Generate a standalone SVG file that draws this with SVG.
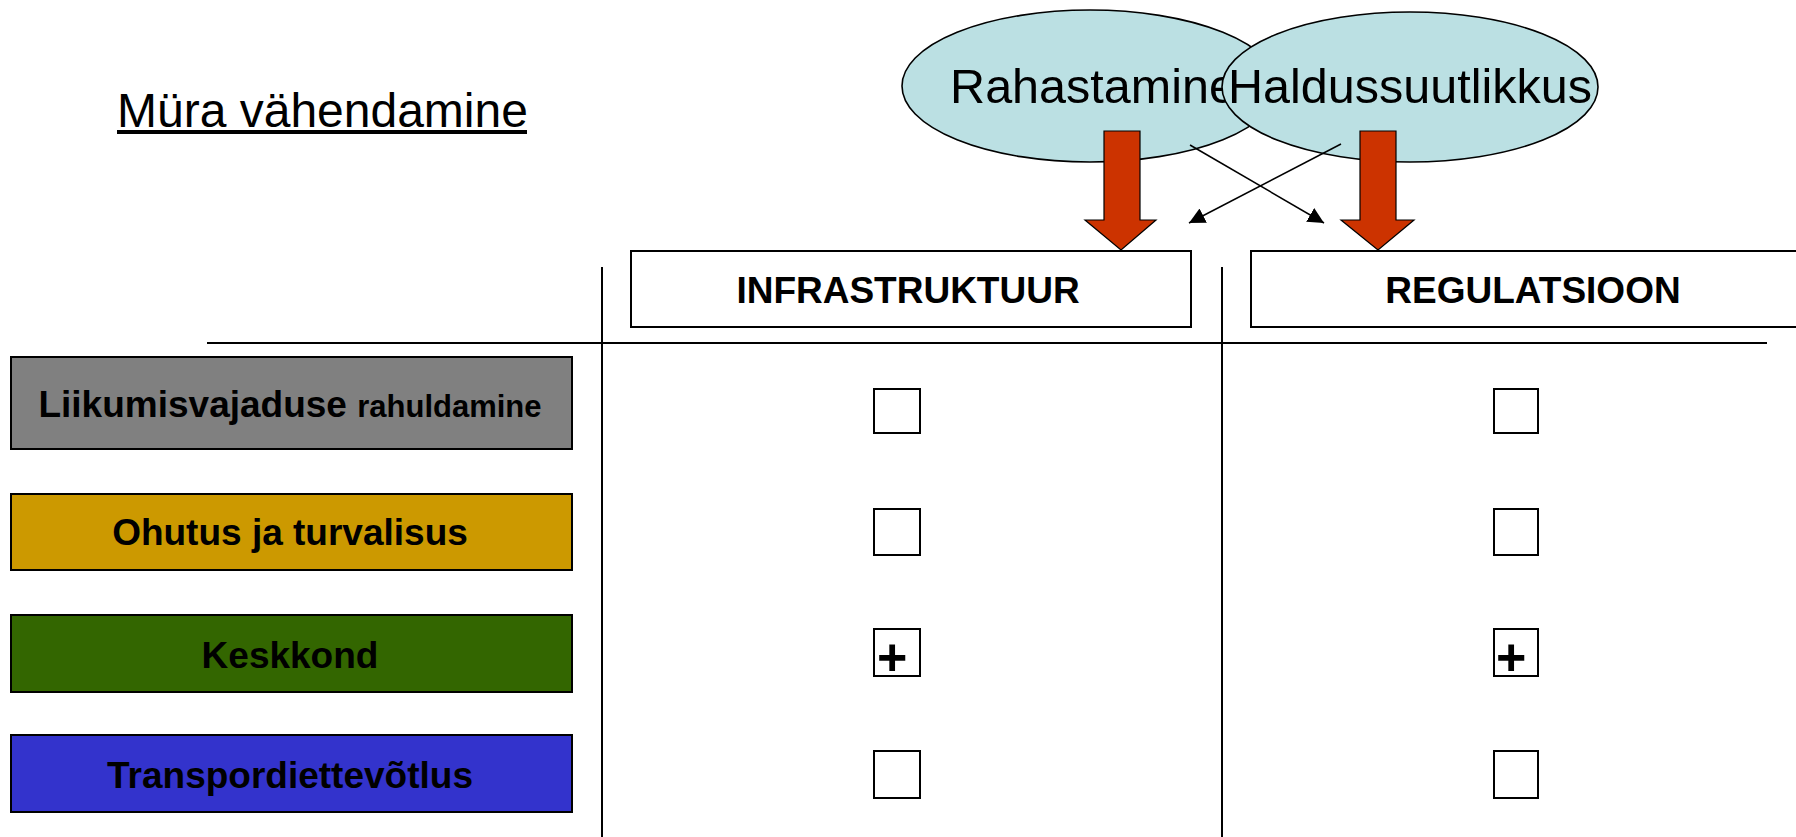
<svg xmlns="http://www.w3.org/2000/svg" width="1796" height="837" viewBox="0 0 1796 837">
<style>
.ell{fill:#BBE0E3;stroke:#000;stroke-width:1.6}
.et{font-family:"Liberation Sans",Arial,sans-serif;font-size:48.5px;fill:#000;text-anchor:middle}
.hdr{fill:#fff;stroke:#000;stroke-width:2}
.ht{font-family:"Liberation Sans",Arial,sans-serif;font-size:37px;font-weight:bold;fill:#000;text-anchor:middle}
.row{stroke:#000;stroke-width:2}
.rt{font-family:"Liberation Sans",Arial,sans-serif;font-size:37px;font-weight:bold;fill:#000;text-anchor:middle}
.sq{fill:#fff;stroke:#000;stroke-width:2}
.plus{font-family:"Liberation Sans",Arial,sans-serif;font-size:52px;font-weight:bold;fill:#000}
.grid{stroke:#000;stroke-width:2;fill:none}
.big{fill:#CC3300;stroke:#000;stroke-width:1.2}
.thin{stroke:#000;stroke-width:1.5;fill:none;marker-end:url(#ah)}
</style>
<defs>
<marker id="ah" viewBox="0 0 10 10" refX="10" refY="5" markerWidth="16" markerHeight="16" markerUnits="userSpaceOnUse" orient="auto">
<path d="M0,0 L10,5 L0,10 Z" fill="#000"/>
</marker>
</defs>
<rect width="1796" height="837" fill="#fff"/>

<g id="title">
<text x="117" y="127" font-family="Liberation Sans,Arial,sans-serif" font-size="48" fill="#000">Müra vähendamine</text>
<rect x="117" y="130" width="410" height="4" fill="#000"/>
</g>

<g id="grid">
<line class="grid" x1="602" y1="267" x2="602" y2="837"/>
<line class="grid" x1="1222" y1="267" x2="1222" y2="837"/>
<line class="grid" x1="207" y1="343" x2="1767" y2="343"/>
</g>

<g id="rahastamine">
<ellipse class="ell" cx="1090" cy="86" rx="188" ry="76"/>
<text class="et" x="1093" y="103">Rahastamine</text>
</g>
<g id="haldussuutlikkus">
<ellipse class="ell" cx="1410" cy="87" rx="188" ry="75"/>
<text class="et" x="1410" y="103">Haldussuutlikkus</text>
</g>

<g id="infrastruktuur">
<rect class="hdr" x="631" y="251" width="560" height="76"/>
<text class="ht" x="908" y="303">INFRASTRUKTUUR</text>
</g>
<g id="regulatsioon">
<rect class="hdr" x="1251" y="251" width="570" height="76"/>
<text class="ht" x="1533" y="303">REGULATSIOON</text>
</g>

<g id="connectors">
<path class="big" d="M1104,131 H1140 V220 H1156 L1121,250 L1085,220 H1104 Z"/>
<path class="big" d="M1360,131 H1396 V220 H1414 L1378,250 L1341,220 H1360 Z"/>
<line class="thin" x1="1190" y1="145" x2="1324" y2="223"/>
<line class="thin" x1="1341" y1="144" x2="1189" y2="223"/>
</g>

<g id="row-liikumine">
<rect class="row" x="11" y="357" width="561" height="92" fill="#808080"/>
<text class="rt" x="290" y="417">Liikumisvajaduse <tspan font-size="31">rahuldamine</tspan></text>
</g>
<g id="row-ohutus">
<rect class="row" x="11" y="494" width="561" height="76" fill="#CC9900"/>
<text class="rt" x="290" y="545">Ohutus ja turvalisus</text>
</g>
<g id="row-keskkond">
<rect class="row" x="11" y="615" width="561" height="77" fill="#336600"/>
<text class="rt" x="290" y="668">Keskkond</text>
</g>
<g id="row-transport">
<rect class="row" x="11" y="735" width="561" height="77" fill="#3333CC"/>
<text class="rt" x="290" y="788">Transpordiettevõtlus</text>
</g>

<g id="cells">
<rect class="sq" x="874" y="389" width="46" height="44"/>
<rect class="sq" x="1494" y="389" width="44" height="44"/>
<rect class="sq" x="874" y="509" width="46" height="46"/>
<rect class="sq" x="1494" y="509" width="44" height="46"/>
<rect class="sq" x="874" y="629" width="46" height="47"/>
<text class="plus" x="877" y="675">+</text>
<rect class="sq" x="1494" y="629" width="44" height="47"/>
<text class="plus" x="1496" y="675">+</text>
<rect class="sq" x="874" y="751" width="46" height="47"/>
<rect class="sq" x="1494" y="751" width="44" height="47"/>
</g>
</svg>
